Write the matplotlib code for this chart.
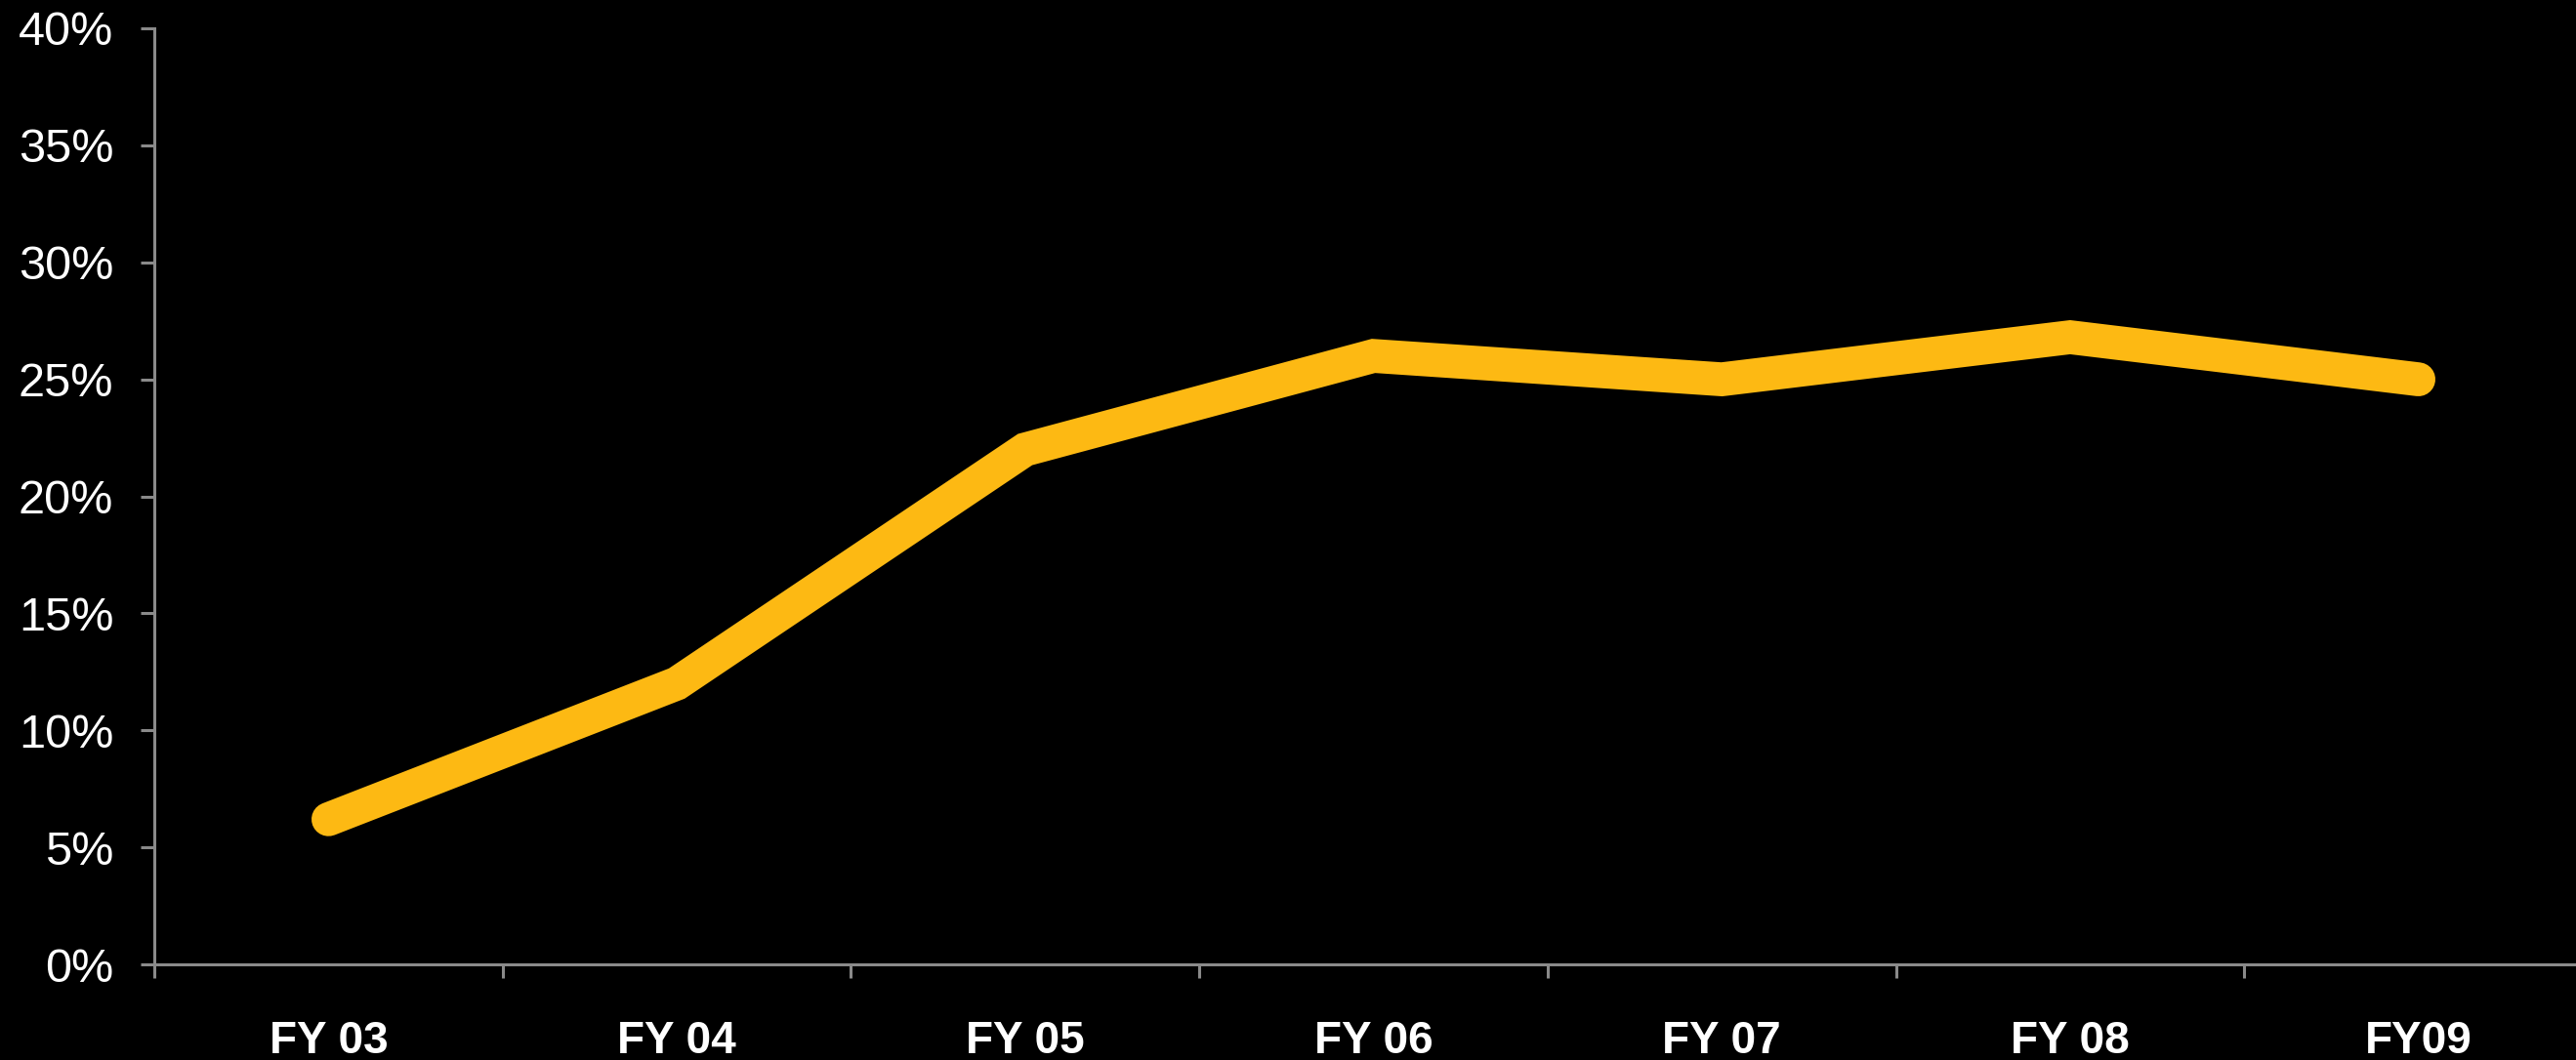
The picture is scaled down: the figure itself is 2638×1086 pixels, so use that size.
import matplotlib
matplotlib.use("Agg")
import matplotlib.pyplot as plt
from matplotlib.ticker import FuncFormatter

# Fiscal-year series
categories = ["FY 03", "FY 04", "FY 05", "FY 06", "FY 07", "FY 08", "FY09"]
values = [6.2, 12.0, 22.0, 26.0, 25.0, 26.8, 25.0]
y_ticks = [0, 5, 10, 15, 20, 25, 30, 35, 40]

plt.rcParams["font.family"] = ["Liberation Sans", "DejaVu Sans"]

fig = plt.figure(figsize=(26.38, 10.86), dpi=100, facecolor="black")
ax = fig.add_axes([158 / 2638, 98 / 1086, 2497 / 2638, 959 / 1086])
ax.set_facecolor("black")

x = list(range(len(categories)))
ax.plot(x, values, color="#FDB913", linewidth=25, solid_capstyle="round",
        solid_joinstyle="miter", zorder=3)

ax.set_xlim(-0.5, len(categories) - 0.5)
ax.set_ylim(0, 40)

axis_gray = "#8a8a8a"
for side in ("top", "right"):
    ax.spines[side].set_visible(False)
for side in ("left", "bottom"):
    ax.spines[side].set_color(axis_gray)
    ax.spines[side].set_linewidth(2.2)

# y axis: percent labels
ax.set_yticks(y_ticks)
ax.yaxis.set_major_formatter(FuncFormatter(lambda v, _: f"{v:.0f}%"))
ax.tick_params(axis="y", colors=axis_gray, length=10, width=2.2, pad=20,
               labelcolor="white", labelsize=35)

# x axis: boundary ticks, labels centred on categories
ax.set_xticks([i - 0.5 for i in range(len(categories) + 1)])
ax.set_xticklabels([])
ax.tick_params(axis="x", which="major", colors=axis_gray, length=10, width=2.2)
ax.set_xticks(x, minor=True)
ax.set_xticklabels(categories, minor=True, fontweight="bold", fontsize=33,
                   color="white")
ax.tick_params(axis="x", which="minor", length=0, pad=41)

fig.savefig("out.png", dpi=100, facecolor="black")
